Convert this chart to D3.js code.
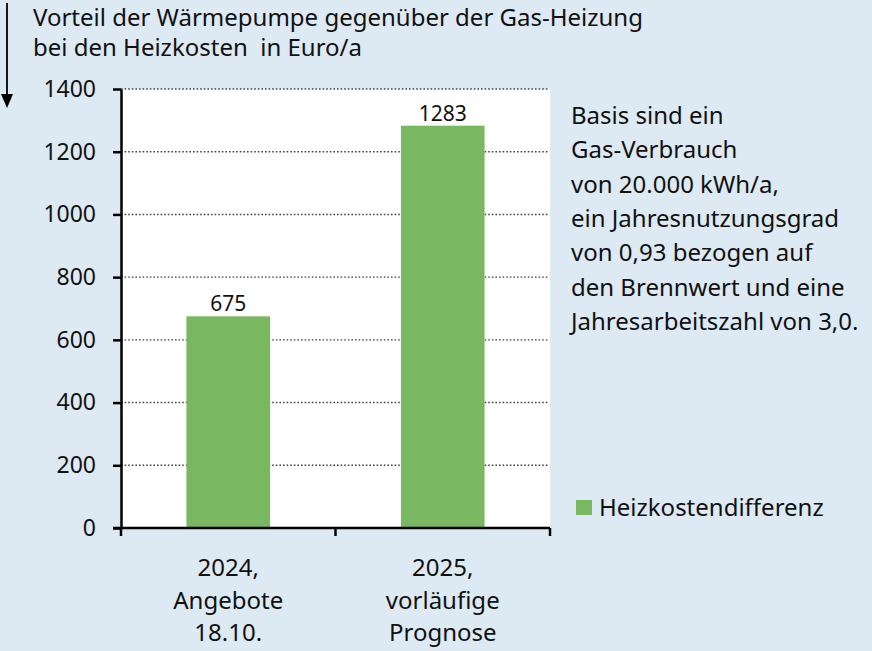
<!DOCTYPE html>
<html>
<head>
<meta charset="utf-8">
<script src="https://cdn.jsdelivr.net/npm/d3@7"></script>
<style>
  body { margin: 0; background: #dde9f3; }
  svg { display: block; font-family: "Noto Sans", "Open Sans", sans-serif; }
  text { white-space: pre; }
</style>
</head>
<body>
<div id="chart"></div>
<script>
// data
const categories = [["2024,", "Angebote", "18.10."], ["2025,", "vorläufige", "Prognose"]];
const values = [675, 1283];
const yTicks = [0, 200, 400, 600, 800, 1000, 1200, 1400];
const titleLines = ["Vorteil der Wärmepumpe gegenüber der Gas-Heizung", "bei den Heizkosten  in Euro/a"];
const noteLines = ["Basis sind ein", "Gas-Verbrauch", "von 20.000 kWh/a,", "ein Jahresnutzungsgrad",
  "von 0,93 bezogen auf", "den Brennwert und eine", "Jahresarbeitszahl von 3,0."];
const legendLabel = "Heizkostendifferenz";

var width = 872, height = 651;
var plot = {left: 121, right: 550, top: 89, bottom: 528};
var green = "#79b861";

var svg = d3.select("#chart").append("svg")
  .attr("width", width)
  .attr("height", height);

svg.append("rect").attr("width", width).attr("height", height).attr("fill", "#dde9f3");

// white plot area
svg.append("rect")
  .attr("x", plot.left).attr("y", plot.top)
  .attr("width", plot.right - plot.left).attr("height", plot.bottom - plot.top)
  .attr("fill", "#fff");

var x = d3.scaleBand()
  .domain(categories.map((c, i) => i))
  .range([plot.left, plot.right])
  .paddingInner(0.61)
  .paddingOuter(0.305);

var y = d3.scaleLinear().domain([0, 1400]).range([plot.bottom, plot.top]);

// dotted gridlines
svg.append("g").selectAll("line")
  .data(yTicks.filter(d => d > 0))
  .enter().append("line")
    .attr("x1", plot.left).attr("x2", plot.right - 2)
    .attr("y1", d => y(d)).attr("y2", d => y(d))
    .attr("stroke", "#444")
    .attr("stroke-width", 1.4)
    .attr("stroke-dasharray", "1.6,2");

// bars
svg.append("g").selectAll("rect")
  .data(values)
  .enter().append("rect")
    .attr("x", (d, i) => x(i))
    .attr("y", d => y(d))
    .attr("width", x.bandwidth())
    .attr("height", d => y(0) - y(d))
    .attr("fill", green);

// value labels
svg.append("g").selectAll("text")
  .data(values)
  .enter().append("text")
    .attr("x", (d, i) => x(i) + x.bandwidth() / 2)
    .attr("y", d => y(d) - 5)
    .attr("text-anchor", "middle")
    .attr("font-size", 21)
    .attr("fill", "#111")
    .text(d => d);

// y axis
var yAxis = svg.append("g")
  .attr("transform", "translate(" + plot.left + ",0)")
  .call(d3.axisLeft(y).tickValues(yTicks).tickFormat(d3.format("d"))
    .tickSize(8).tickPadding(17).tickSizeOuter(0));
yAxis.select(".domain").attr("stroke", "#000").attr("stroke-width", 2.5);
yAxis.selectAll(".tick line").attr("stroke", "#000").attr("stroke-width", 2.5);
yAxis.selectAll(".tick text").attr("font-size", 23).attr("fill", "#111")
  .attr("font-family", "'Noto Sans', sans-serif");

// x axis: ticks at the category boundaries
var bounds = [plot.left, ...categories.map((c, i) => x(i) + x.bandwidth() / 2 + x.step() / 2)];
var xAxis = svg.append("g");
xAxis.append("line")
  .attr("x1", plot.left - 8).attr("x2", plot.right)
  .attr("y1", plot.bottom).attr("y2", plot.bottom)
  .attr("stroke", "#000").attr("stroke-width", 2.5);
xAxis.selectAll(".xt").data(bounds).enter().append("line")
  .attr("x1", d => d).attr("x2", d => d)
  .attr("y1", plot.bottom).attr("y2", plot.bottom + 8)
  .attr("stroke", "#000").attr("stroke-width", 2.5);

// category labels
var catG = svg.append("g").selectAll("text")
  .data(categories)
  .enter().append("text")
    .attr("text-anchor", "middle")
    .attr("font-size", 24)
    .attr("fill", "#111");
catG.selectAll("tspan")
  .data((d, i) => d.map(s => ({s: s, i: i})))
  .enter().append("tspan")
    .attr("x", d => x(d.i) + x.bandwidth() / 2)
    .attr("y", (d, j) => 576 + j * 32.5)
    .text(d => d.s);

// title
svg.append("g").selectAll("text")
  .data(titleLines)
  .enter().append("text")
    .attr("x", 33)
    .attr("y", (d, i) => 26 + i * 30)
    .attr("font-size", 24)
    .attr("fill", "#111")
    .text(d => d);

// arrow at the left edge
svg.append("line")
  .attr("x1", 7).attr("x2", 7).attr("y1", 3).attr("y2", 96)
  .attr("stroke", "#000").attr("stroke-width", 1.8);
svg.append("path")
  .attr("d", "M1,94 L13,94 L7,108 Z")
  .attr("fill", "#000");

// note text
svg.append("g").selectAll("text")
  .data(noteLines)
  .enter().append("text")
    .attr("x", 571)
    .attr("y", (d, i) => 124 + i * 34.3)
    .attr("font-size", 24)
    .attr("fill", "#111")
    .text(d => d);

// legend
var legend = svg.append("g").attr("transform", "translate(576,500)");
legend.append("rect").attr("width", 16).attr("height", 15).attr("fill", green);
legend.append("text")
  .attr("x", 23).attr("y", 16)
  .attr("font-size", 24)
  .attr("fill", "#111")
  .text(legendLabel);
</script>
</body>
</html>
